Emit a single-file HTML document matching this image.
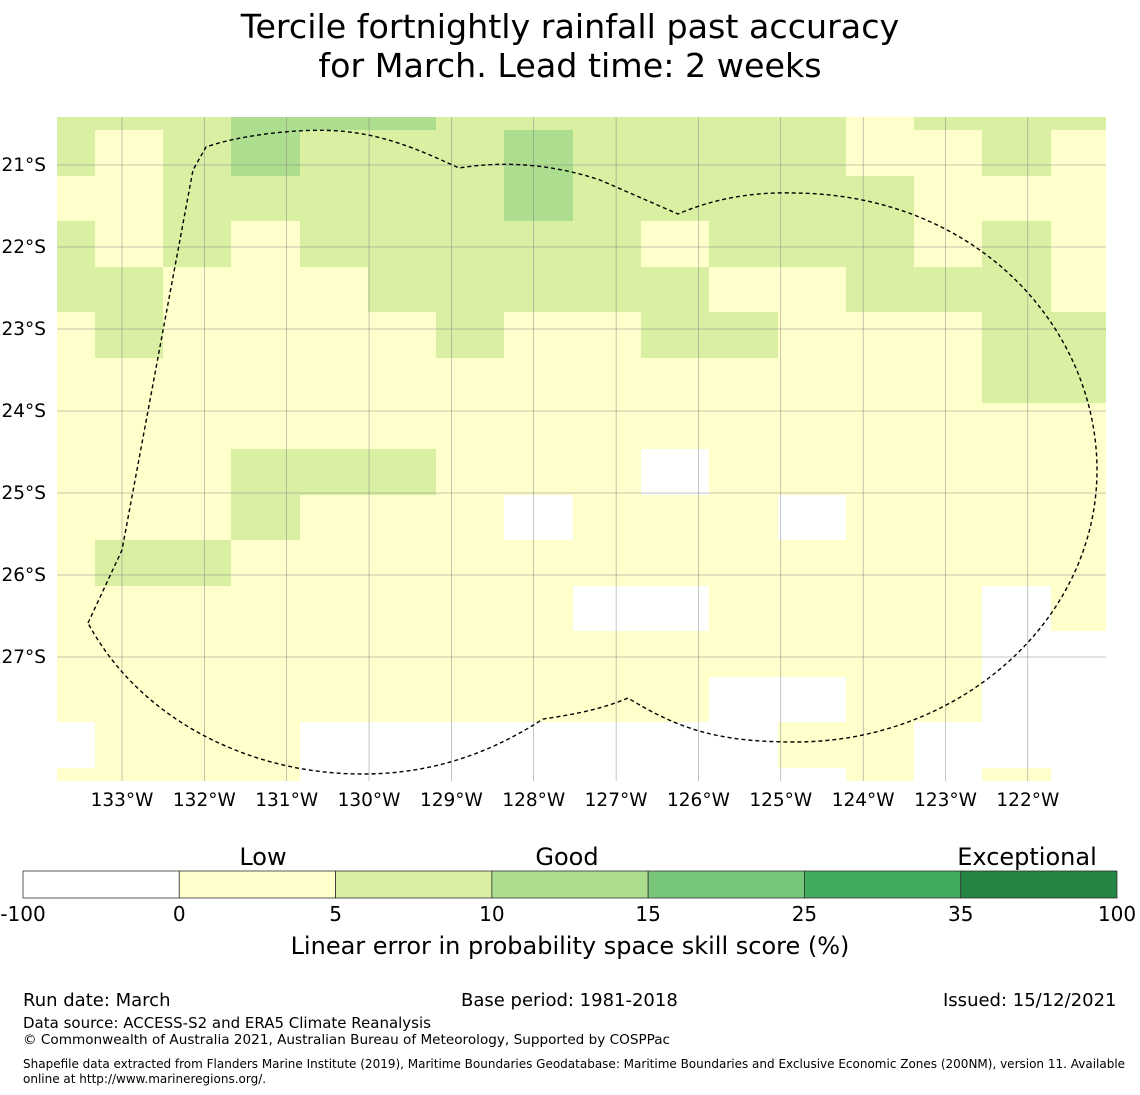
<!DOCTYPE html>
<html><head><meta charset="utf-8"><style>
body{margin:0;background:#fff;font-family:"DejaVu Sans","Liberation Sans",sans-serif;}
#wrap{position:relative;width:1140px;height:1095px;overflow:hidden;}
.t{position:absolute;white-space:nowrap;color:#000;}
</style></head><body>
<div id="wrap">
<div class="t" style="left:0;width:1140px;text-align:center;top:7px;font-size:33.3px;line-height:39px;">Tercile fortnightly rainfall past accuracy<br>for March. Lead time: 2 weeks</div>
<svg id="map" width="1140" height="1095" style="position:absolute;left:0;top:0"></svg>
<div class="t" style="left:23px;top:990px;font-size:18px;">Run date: March</div>
<div class="t" style="left:461px;top:990px;font-size:18px;">Base period: 1981-2018</div>
<div class="t" style="left:943px;top:990px;font-size:18px;">Issued: 15/12/2021</div>
<div class="t" style="left:23px;top:1014px;font-size:15px;">Data source: ACCESS-S2 and ERA5 Climate Reanalysis</div>
<div class="t" style="left:23px;top:1032px;font-size:13.6px;">© Commonwealth of Australia 2021, Australian Bureau of Meteorology, Supported by COSPPac</div>
<div class="t" style="left:23px;top:1057px;font-size:12px;line-height:15px;">Shapefile data extracted from Flanders Marine Institute (2019), Maritime Boundaries Geodatabase: Maritime Boundaries and Exclusive Economic Zones (200NM), version 11. Available<br>online at http://www.marineregions.org/.</div>
</div>
<script>
const lonTicks=[133,132,131,130,129,128,127,126,125,124,123,122];
const latTicks=[21,22,23,24,25,26,27];
const colEdges=[57,95,163,231,300,368,436,504,573,641,709,778,846,914,982,1051,1106];
const rowEdges=[117,130,176,221,267,312,358,403,449,495,540,586,631,677,722,768,781];
const grid=[
[2,2,2,3,3,3,2,2,2,2,2,2,1,2,2,2],
[2,1,2,3,2,2,2,3,2,2,2,2,1,1,2,1],
[1,1,2,2,2,2,2,3,2,2,2,2,2,1,1,1],
[2,1,2,1,2,2,2,2,2,1,2,2,2,1,2,1],
[2,2,1,1,1,2,2,2,2,2,1,1,2,2,2,1],
[1,2,1,1,1,1,2,1,1,2,2,1,1,1,2,2],
[1,1,1,1,1,1,1,1,1,1,1,1,1,1,2,2],
[1,1,1,1,1,1,1,1,1,1,1,1,1,1,1,1],
[1,1,1,2,2,2,1,1,1,0,1,1,1,1,1,1],
[1,1,1,2,1,1,1,0,1,1,1,0,1,1,1,1],
[1,2,2,1,1,1,1,1,1,1,1,1,1,1,1,1],
[1,1,1,1,1,1,1,1,0,0,1,1,1,1,0,1],
[1,1,1,1,1,1,1,1,1,1,1,1,1,1,0,0],
[1,1,1,1,1,1,1,1,1,1,0,0,1,1,0,0],
[0,1,1,1,0,0,0,0,0,0,0,1,1,0,0,0],
[1,1,1,1,0,0,0,0,0,0,0,0,1,0,1,0]];
const cbBounds=[-100,0,5,10,15,25,35,100];
const cbColors=['#ffffff','#ffffcc','#d9f0a3','#addd8e','#78c679','#41ab5d','#238443'];
const cbWords=['Low','Good','Exceptional'];
const NS='http://www.w3.org/2000/svg';
const FF='DejaVu Sans, Liberation Sans, sans-serif';
const svg=document.getElementById('map');
function el(tag,a,p){const e=document.createElementNS(NS,tag);for(const k in a)e.setAttribute(k,a[k]);(p||svg).appendChild(e);return e;}
function lonX(l){return 122+(133-l)*82.35;}
function latY(l){return 165+(l-21)*82;}
for(let r=0;r<grid.length;r++)for(let c=0;c<grid[r].length;c++){
 const e=el('rect',{x:colEdges[c],y:rowEdges[r],width:colEdges[c+1]-colEdges[c],height:rowEdges[r+1]-rowEdges[r],fill:cbColors[grid[r][c]]});
 
 
}
lonTicks.forEach(l=>{const x=lonX(l);
 const g=el('line',{x1:x,x2:x,y1:117,y2:781,stroke:'#888','stroke-width':0.5});
 
 const t=el('text',{x:x,y:806,'font-size':18.5,'text-anchor':'middle','font-family':FF});t.textContent=l+'°W';
 });
latTicks.forEach(l=>{const y=latY(l);
 const g=el('line',{x1:57,x2:1106,y1:y,y2:y,stroke:'#888','stroke-width':0.5});
 
 const t=el('text',{x:46,y:y+6,'font-size':18.5,'text-anchor':'end','font-family':FF});t.textContent=l+'°S';
 });
const eez=el('path',{d:'M88,623 L122,550 L193,170 L206,147 C240,135 300,128 340,131 C390,135 430,155 459,168 C490,163 540,160 600,180 L678,214 C720,196 760,192 795,193 C980,195 1097,330 1097,470 C1097,620 960,742 795,742 C720,742 680,730 628,698 C600,710 570,715 543,719 C480,760 420,774 362,774 C250,774 140,720 88,623 Z',fill:'none',stroke:'#000','stroke-width':1.4,'stroke-dasharray':'4,3'});

const cbX=23,cbW=1094,cbY=871,cbH=27,seg=cbW/cbColors.length;
cbColors.forEach((c,i)=>{const r=el('rect',{x:cbX+i*seg,y:cbY,width:seg,height:cbH,fill:c,stroke:'#333','stroke-width':0.8});
 });
cbBounds.forEach((b,i)=>{const t=el('text',{x:cbX+i*seg,y:921,'font-size':20,'text-anchor':'middle','font-family':FF});t.textContent=b;
 });
[263,567,1027].forEach((x,i)=>{const t=el('text',{x:x,y:865,'font-size':24,'text-anchor':'middle','font-family':FF});t.textContent=cbWords[i];
 });
const ct=el('text',{x:570,y:954,'font-size':24,'text-anchor':'middle','font-family':FF});ct.textContent='Linear error in probability space skill score (%)';

</script>
</body></html>
